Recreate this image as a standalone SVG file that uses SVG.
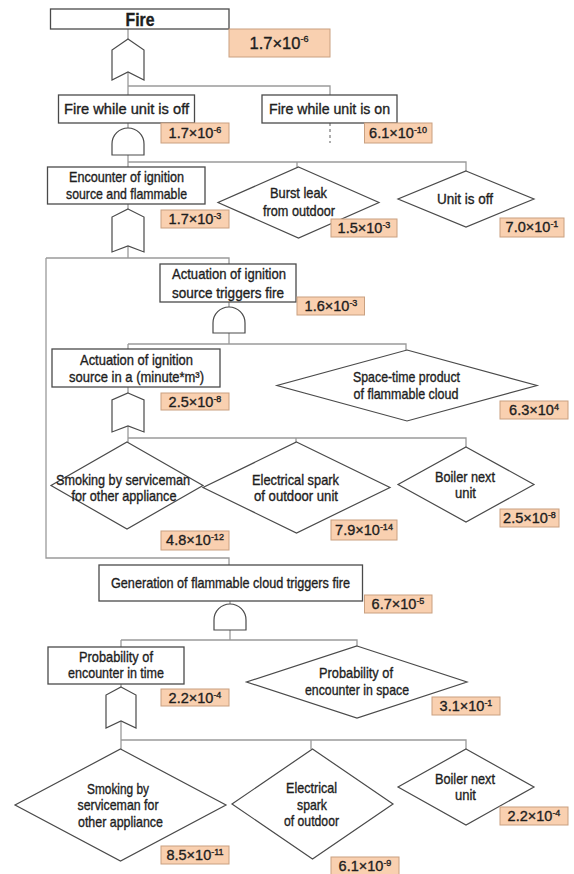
<svg xmlns="http://www.w3.org/2000/svg" width="574" height="874" viewBox="0 0 574 874">
<style>
.bg{fill:#ffffff}
.box{fill:#ffffff;stroke:#4a4a4a;stroke-width:1.3}
.dia{fill:#ffffff;stroke:#4a4a4a;stroke-width:1.2}
.gate{fill:#ffffff;stroke:#4a4a4a;stroke-width:1.2}
.val{fill:#f9d0b0;stroke:#c9a080;stroke-width:1}
.con{fill:none;stroke:#9a9a9a;stroke-width:1.3}
.dash{fill:none;stroke:#777;stroke-width:1.2;stroke-dasharray:3 3}
text{font-family:"Liberation Sans",Arial,sans-serif;font-size:14.5px;fill:#1e1e1e;text-anchor:middle}
.t{stroke:#1e1e1e;stroke-width:0.35}
.big{font-size:18px;font-weight:bold}
.vt{font-size:14.5px}
.vbig{font-size:16.5px}
.sup{font-size:9px}
</style>
<rect class="bg" x="0" y="0" width="574" height="874"/>

<g id="connectors">
<path class="con" d="M128,29 V39"/>
<path class="con" d="M128,72 V95 M128,86 H330 V95"/>
<path class="dash" d="M330,123 V143"/>
<path class="con" d="M128,123 V128"/>
<path class="con" d="M128,155 V167 M128,162 H466 V171 M297,162 V167"/>
<path class="con" d="M128,204 V209"/>
<path class="con" d="M128,246 V258 M46,258 H229 V264 M46,258 V558 H229 V565"/>
<path class="con" d="M229,302 V307"/>
<path class="con" d="M229,333 V344 M128,344 H406 V350 M128,344 V349"/>
<path class="con" d="M128,387 V393"/>
<path class="con" d="M128,426 V442 M128,438 H466 V447 M296,438 V442"/>
<path class="con" d="M230,601 V604"/>
<path class="con" d="M230,630 V640 M121,640 H357 V646 M121,640 V647"/>
<path class="con" d="M121,684 V687"/>
<path class="con" d="M121,721 V749 M121,740 H466 V749 M311,740 V749"/>
</g>

<g id="gates">
<path id="or1" class="gate" d="M128,39 L144,50 V80 L128,72 L112,80 V50 Z"/>
<path id="and1" class="gate" d="M112,155 V144 A16,16 0 0 1 144,144 V155 Z"/>
<path id="or2" class="gate" d="M128,209 L144,217 V252 L128,246 L112,252 V217 Z"/>
<path id="and2" class="gate" d="M213,333 V323 A16,16 0 0 1 245,323 V333 Z"/>
<path id="or3" class="gate" d="M128,393 L144,400 V432 L128,426 L112,432 V400 Z"/>
<path id="and3" class="gate" d="M214,630 V620 A16,16 0 0 1 246,620 V630 Z"/>
<path id="or4" class="gate" d="M121,687 L136,695 V728 L121,721 L106,728 V695 Z"/>
</g>

<g id="n-fire">
<rect class="box" x="50.5" y="9" width="178.5" height="20"/>
<text class="t big" x="140" y="25.5" textLength="29" lengthAdjust="spacingAndGlyphs">Fire</text>
<rect class="val" x="229" y="29" width="101" height="28"/>
<text class="t vbig" x="279" y="49">1.7×10<tspan class="sup" dy="-7">-6</tspan></text>
</g>

<g id="n-off">
<rect class="box" x="58.5" y="95" width="136" height="28"/>
<text class="t" x="126.5" y="114" textLength="125" lengthAdjust="spacingAndGlyphs">Fire while unit is off</text>
<rect class="val" x="161" y="123" width="68" height="20"/>
<text class="t vt" x="195" y="138">1.7×10<tspan class="sup" dy="-5">-6</tspan></text>
</g>

<g id="n-on">
<rect class="box" x="262" y="95" width="135" height="28"/>
<text class="t" x="329.5" y="114" textLength="121" lengthAdjust="spacingAndGlyphs">Fire while unit is on</text>
<rect class="val" x="364.5" y="123" width="67.5" height="20"/>
<text class="t vt" x="398" y="138">6.1×10<tspan class="sup" dy="-5">-10</tspan></text>
</g>

<g id="n-encounter">
<rect class="box" x="47.5" y="167" width="157.5" height="37"/>
<text class="t" x="126.5" y="182" textLength="115" lengthAdjust="spacingAndGlyphs">Encounter of ignition</text>
<text class="t" x="126.5" y="199" textLength="121" lengthAdjust="spacingAndGlyphs">source and flammable</text>
<rect class="val" x="161" y="210" width="68" height="18"/>
<text class="t vt" x="195" y="224">1.7×10<tspan class="sup" dy="-5">-3</tspan></text>
</g>

<g id="n-burst">
<polygon class="dia" points="298.5,167 379,202.5 298.5,238 218,202.5"/>
<text class="t" x="298.5" y="198" textLength="57" lengthAdjust="spacingAndGlyphs">Burst leak</text>
<text class="t" x="299" y="216" textLength="72" lengthAdjust="spacingAndGlyphs">from outdoor</text>
<rect class="val" x="331" y="219" width="66" height="18"/>
<text class="t vt" x="364" y="233">1.5×10<tspan class="sup" dy="-5">-3</tspan></text>
</g>

<g id="n-unitoff">
<polygon class="dia" points="466,171 534,199 466,227 398,199"/>
<text class="t" x="465" y="204" textLength="56" lengthAdjust="spacingAndGlyphs">Unit is off</text>
<rect class="val" x="500" y="218" width="64" height="19"/>
<text class="t vt" x="532" y="232">7.0×10<tspan class="sup" dy="-5">-1</tspan></text>
</g>

<g id="n-triggers">
<rect class="box" x="160" y="264" width="136" height="38"/>
<text class="t" x="229" y="279" textLength="114" lengthAdjust="spacingAndGlyphs">Actuation of ignition</text>
<text class="t" x="228" y="298" textLength="112" lengthAdjust="spacingAndGlyphs">source triggers fire</text>
<rect class="val" x="297" y="297" width="67.5" height="18"/>
<text class="t vt" x="331" y="311">1.6×10<tspan class="sup" dy="-5">-3</tspan></text>
</g>

<g id="n-actuation">
<rect class="box" x="52" y="349" width="168" height="38"/>
<text class="t" x="136.5" y="365" textLength="113" lengthAdjust="spacingAndGlyphs">Actuation of ignition</text>
<text class="t" x="136.5" y="382" textLength="135" lengthAdjust="spacingAndGlyphs">source in a (minute*m³)</text>
<rect class="val" x="161" y="393" width="68" height="17"/>
<text class="t vt" x="195" y="406.5">2.5×10<tspan class="sup" dy="-5">-8</tspan></text>
</g>

<g id="n-spacetime">
<polygon class="dia" points="407,350 537,385.5 407,421 277,385.5"/>
<text class="t" x="406.5" y="382" textLength="107" lengthAdjust="spacingAndGlyphs">Space-time product</text>
<text class="t" x="406" y="399" textLength="105" lengthAdjust="spacingAndGlyphs">of flammable cloud</text>
<rect class="val" x="500" y="401" width="68" height="18"/>
<text class="t vt" x="534" y="415">6.3×10<tspan class="sup" dy="-5">4</tspan></text>
</g>

<g id="n-smoking1">
<polygon class="dia" points="127,442 203,485.5 127,529 51,485.5"/>
<text class="t" x="123" y="485" textLength="134" lengthAdjust="spacingAndGlyphs">Smoking by serviceman</text>
<text class="t" x="124" y="501" textLength="105" lengthAdjust="spacingAndGlyphs">for other appliance</text>
<rect class="val" x="161" y="531" width="68" height="19"/>
<text class="t vt" x="195" y="545">4.8×10<tspan class="sup" dy="-5">-12</tspan></text>
</g>

<g id="n-spark1">
<polygon class="dia" points="296.5,442 390,487.5 296.5,533 203,487.5"/>
<text class="t" x="295.5" y="485" textLength="87" lengthAdjust="spacingAndGlyphs">Electrical spark</text>
<text class="t" x="296" y="501" textLength="84" lengthAdjust="spacingAndGlyphs">of outdoor unit</text>
<rect class="val" x="331" y="520" width="66" height="20"/>
<text class="t vt" x="364" y="535">7.9×10<tspan class="sup" dy="-5">-14</tspan></text>
</g>

<g id="n-boiler1">
<polygon class="dia" points="466,447 534,484.5 466,522 398,484.5"/>
<text class="t" x="465" y="482" textLength="60" lengthAdjust="spacingAndGlyphs">Boiler next</text>
<text class="t" x="465.5" y="498" textLength="21" lengthAdjust="spacingAndGlyphs">unit</text>
<rect class="val" x="500" y="509" width="59" height="18"/>
<text class="t vt" x="529.5" y="523">2.5×10<tspan class="sup" dy="-5">-8</tspan></text>
</g>

<g id="n-generation">
<rect class="box" x="99" y="565" width="263.5" height="36"/>
<text class="t" x="230.5" y="588" textLength="239" lengthAdjust="spacingAndGlyphs">Generation of flammable cloud triggers fire</text>
<rect class="val" x="364.5" y="595" width="67.5" height="18"/>
<text class="t vt" x="398" y="609">6.7×10<tspan class="sup" dy="-5">-5</tspan></text>
</g>

<g id="n-probtime">
<rect class="box" x="48" y="647" width="136" height="37"/>
<text class="t" x="116" y="662" textLength="74" lengthAdjust="spacingAndGlyphs">Probability of</text>
<text class="t" x="116" y="678" textLength="96" lengthAdjust="spacingAndGlyphs">encounter in time</text>
<rect class="val" x="161" y="689" width="68" height="17"/>
<text class="t vt" x="195" y="702.5">2.2×10<tspan class="sup" dy="-5">-4</tspan></text>
</g>

<g id="n-probspace">
<polygon class="dia" points="357,646 467,682 357,718 246.5,682"/>
<text class="t" x="356" y="678" textLength="74" lengthAdjust="spacingAndGlyphs">Probability of</text>
<text class="t" x="357" y="695" textLength="104" lengthAdjust="spacingAndGlyphs">encounter in space</text>
<rect class="val" x="432" y="697" width="68" height="18"/>
<text class="t vt" x="466" y="711">3.1×10<tspan class="sup" dy="-5">-1</tspan></text>
</g>

<g id="n-smoking2">
<polygon class="dia" points="120.5,749 226,805 120.5,861 15,805"/>
<text class="t" x="118" y="794" textLength="62" lengthAdjust="spacingAndGlyphs">Smoking by</text>
<text class="t" x="118" y="810" textLength="81" lengthAdjust="spacingAndGlyphs">serviceman for</text>
<text class="t" x="120.5" y="827" textLength="85" lengthAdjust="spacingAndGlyphs">other appliance</text>
<rect class="val" x="161" y="846" width="68" height="18"/>
<text class="t vt" x="195" y="860">8.5×10<tspan class="sup" dy="-5">-11</tspan></text>
</g>

<g id="n-spark2">
<polygon class="dia" points="312.5,749 393,804 312.5,859 232,804"/>
<text class="t" x="311.5" y="793" textLength="51" lengthAdjust="spacingAndGlyphs">Electrical</text>
<text class="t" x="312" y="810" textLength="30" lengthAdjust="spacingAndGlyphs">spark</text>
<text class="t" x="311.5" y="826" textLength="55" lengthAdjust="spacingAndGlyphs">of outdoor</text>
<rect class="val" x="331" y="857" width="68" height="18"/>
<text class="t vt" x="365" y="871">6.1×10<tspan class="sup" dy="-5">-9</tspan></text>
</g>

<g id="n-boiler2">
<polygon class="dia" points="466,749 534,787 466,825 398,787"/>
<text class="t" x="465" y="784" textLength="60" lengthAdjust="spacingAndGlyphs">Boiler next</text>
<text class="t" x="465.5" y="800" textLength="21" lengthAdjust="spacingAndGlyphs">unit</text>
<rect class="val" x="500" y="807" width="68" height="18"/>
<text class="t vt" x="534" y="821">2.2×10<tspan class="sup" dy="-5">-4</tspan></text>
</g>
</svg>
